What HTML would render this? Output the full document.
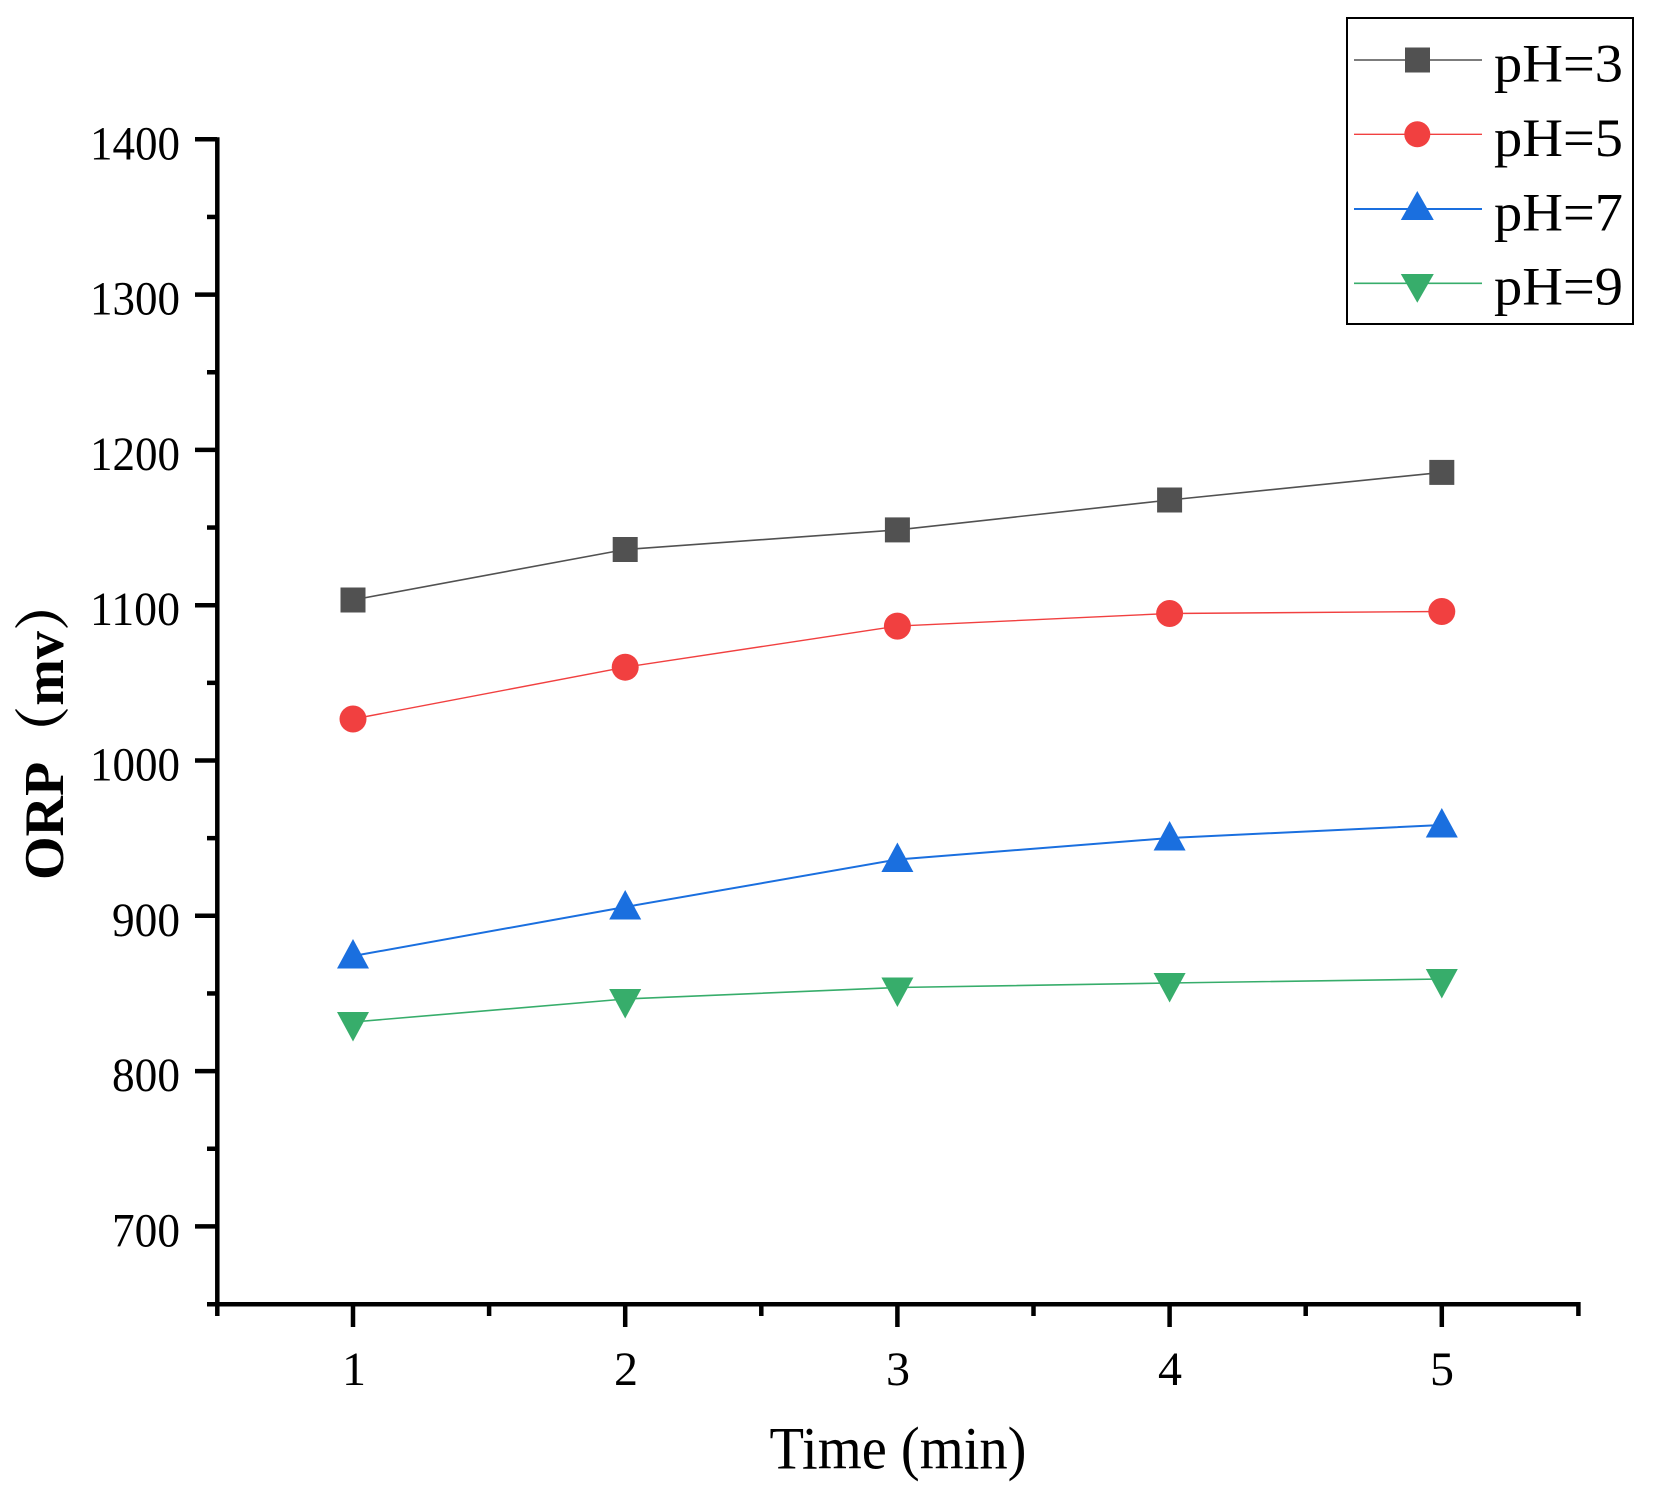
<!DOCTYPE html>
<html>
<head>
<meta charset="utf-8">
<style>
  html, body { margin: 0; padding: 0; background: #ffffff; }
  svg { display: block; }
  .tick { font-family: "Liberation Serif", "Noto Serif CJK SC", serif; font-size: 48px; fill: #000; }
  .leg { font-family: "Liberation Serif", "Noto Serif CJK SC", serif; font-size: 54px; fill: #000; }
</style>
</head>
<body>
<svg width="1656" height="1495" viewBox="0 0 1656 1495" xmlns="http://www.w3.org/2000/svg">
  <rect x="0" y="0" width="1656" height="1495" fill="#ffffff"/>

  <!-- Axes -->
  <g stroke="#000" stroke-width="4.5" fill="none">
    <!-- y axis -->
    <line x1="217.3" y1="137.3" x2="217.3" y2="1316"/>
    <!-- x axis -->
    <line x1="207" y1="1304.3" x2="1580.5" y2="1304.3"/>
    <!-- y major ticks -->
    <line x1="195" y1="139.3" x2="217" y2="139.3"/>
    <line x1="195" y1="294.6" x2="217" y2="294.6"/>
    <line x1="195" y1="449.9" x2="217" y2="449.9"/>
    <line x1="195" y1="605.2" x2="217" y2="605.2"/>
    <line x1="195" y1="760.5" x2="217" y2="760.5"/>
    <line x1="195" y1="915.8" x2="217" y2="915.8"/>
    <line x1="195" y1="1071.1" x2="217" y2="1071.1"/>
    <line x1="195" y1="1226.4" x2="217" y2="1226.4"/>
    <!-- y minor ticks -->
    <line x1="207" y1="216.95" x2="217" y2="216.95"/>
    <line x1="207" y1="372.25" x2="217" y2="372.25"/>
    <line x1="207" y1="527.55" x2="217" y2="527.55"/>
    <line x1="207" y1="682.85" x2="217" y2="682.85"/>
    <line x1="207" y1="838.15" x2="217" y2="838.15"/>
    <line x1="207" y1="993.45" x2="217" y2="993.45"/>
    <line x1="207" y1="1148.75" x2="217" y2="1148.75"/>
    <!-- x major ticks -->
    <line x1="353" y1="1304" x2="353" y2="1327"/>
    <line x1="625.2" y1="1304" x2="625.2" y2="1327"/>
    <line x1="897.4" y1="1304" x2="897.4" y2="1327"/>
    <line x1="1169.6" y1="1304" x2="1169.6" y2="1327"/>
    <line x1="1441.8" y1="1304" x2="1441.8" y2="1327"/>
    <!-- x minor ticks -->
    <line x1="489.1" y1="1304" x2="489.1" y2="1316"/>
    <line x1="761.3" y1="1304" x2="761.3" y2="1316"/>
    <line x1="1033.5" y1="1304" x2="1033.5" y2="1316"/>
    <line x1="1305.7" y1="1304" x2="1305.7" y2="1316"/>
    <line x1="1578.4" y1="1302" x2="1578.4" y2="1316"/>
  </g>

  <!-- Y tick labels -->
  <g class="tick" text-anchor="end">
    <text x="180" y="159.3" textLength="90" lengthAdjust="spacingAndGlyphs">1400</text>
    <text x="180" y="314.6" textLength="90" lengthAdjust="spacingAndGlyphs">1300</text>
    <text x="180" y="469.9" textLength="90" lengthAdjust="spacingAndGlyphs">1200</text>
    <text x="180" y="625.2" textLength="90" lengthAdjust="spacingAndGlyphs">1100</text>
    <text x="180" y="780.5" textLength="90" lengthAdjust="spacingAndGlyphs">1000</text>
    <text x="180" y="935.8" textLength="68" lengthAdjust="spacingAndGlyphs">900</text>
    <text x="180" y="1091.1" textLength="68" lengthAdjust="spacingAndGlyphs">800</text>
    <text x="180" y="1246.4" textLength="68" lengthAdjust="spacingAndGlyphs">700</text>
  </g>

  <!-- X tick labels -->
  <g class="tick" text-anchor="middle">
    <text x="354" y="1385">1</text>
    <text x="626" y="1385">2</text>
    <text x="898" y="1385">3</text>
    <text x="1170" y="1385">4</text>
    <text x="1442" y="1385">5</text>
  </g>

  <!-- Axis titles -->
  <text x="898" y="1468.3" text-anchor="middle" textLength="257" lengthAdjust="spacingAndGlyphs"
        style="font-family:'Liberation Serif','Noto Serif CJK SC',serif;font-size:60px;fill:#000;">Time (min)</text>
  <g transform="rotate(-90)">
    <text x="-880" y="63" style="font-family:'Liberation Serif','Noto Serif CJK SC',serif;font-size:56px;font-weight:bold;fill:#000;">ORP（mv）</text>
  </g>

  <!-- Series lines -->
  <polyline fill="none" stroke="#515151" stroke-width="1.6"
    points="353,600 625.2,549.5 897.4,529.9 1169.6,500 1441.8,472.4"/>
  <polyline fill="none" stroke="#F14040" stroke-width="1.4"
    points="353,719 625.2,667.2 897.4,626.1 1169.6,613.5 1441.8,611.5"/>
  <polyline fill="none" stroke="#1A6FDF" stroke-width="2"
    points="353,956 625.2,907 897.4,859.5 1169.6,838 1441.8,825"/>
  <polyline fill="none" stroke="#37AD6B" stroke-width="1.6"
    points="353,1022 625.2,999 897.4,987.5 1169.6,983 1441.8,979"/>

  <!-- pH=3 squares -->
  <g fill="#515151">
    <rect x="340.5" y="587.5" width="25" height="25"/>
    <rect x="612.7" y="537" width="25" height="25"/>
    <rect x="884.9" y="517.4" width="25" height="25"/>
    <rect x="1157.1" y="487.5" width="25" height="25"/>
    <rect x="1429.3" y="459.9" width="25" height="25"/>
  </g>
  <!-- pH=5 circles -->
  <g fill="#F14040">
    <circle cx="353" cy="719" r="13.5"/>
    <circle cx="625.2" cy="667.2" r="13.5"/>
    <circle cx="897.4" cy="626.1" r="13.5"/>
    <circle cx="1169.6" cy="613.5" r="13.5"/>
    <circle cx="1441.8" cy="611.5" r="13.5"/>
  </g>
  <!-- pH=7 up triangles -->
  <g fill="#1A6FDF">
    <polygon points="353,939 337,968.5 369,968.5"/>
    <polygon points="625.2,890 609.2,919.5 641.2,919.5"/>
    <polygon points="897.4,842.5 881.4,872 913.4,872"/>
    <polygon points="1169.6,821 1153.6,850.5 1185.6,850.5"/>
    <polygon points="1441.8,808 1425.8,837.5 1457.8,837.5"/>
  </g>
  <!-- pH=9 down triangles -->
  <g fill="#37AD6B">
    <polygon points="337,1012 369,1012 353,1041.5"/>
    <polygon points="609.2,989 641.2,989 625.2,1018.5"/>
    <polygon points="881.4,977.5 913.4,977.5 897.4,1007"/>
    <polygon points="1153.6,973 1185.6,973 1169.6,1002.5"/>
    <polygon points="1425.8,969 1457.8,969 1441.8,998.5"/>
  </g>

  <!-- Legend -->
  <rect x="1347" y="18" width="286" height="306" fill="#ffffff" stroke="#000" stroke-width="2"/>
  <line x1="1354" y1="60" x2="1482" y2="60" stroke="#515151" stroke-width="1.6"/>
  <rect x="1405" y="47.5" width="25" height="25" fill="#515151"/>
  <line x1="1354" y1="134.3" x2="1482" y2="134.3" stroke="#F14040" stroke-width="1.4"/>
  <circle cx="1417.3" cy="134.3" r="13" fill="#F14040"/>
  <line x1="1354" y1="209" x2="1482" y2="209" stroke="#1A6FDF" stroke-width="2"/>
  <polygon points="1417.3,191 1400.8,220 1433.8,220" fill="#1A6FDF"/>
  <line x1="1354" y1="283.3" x2="1482" y2="283.3" stroke="#37AD6B" stroke-width="1.6"/>
  <polygon points="1400.8,274 1433.8,274 1417.3,302.7" fill="#37AD6B"/>

  <g class="leg">
    <text x="1494" y="81.7" textLength="129" lengthAdjust="spacingAndGlyphs">pH=3</text>
    <text x="1494" y="156" textLength="129" lengthAdjust="spacingAndGlyphs">pH=5</text>
    <text x="1494" y="230.3" textLength="129" lengthAdjust="spacingAndGlyphs">pH=7</text>
    <text x="1494" y="304.6" textLength="129" lengthAdjust="spacingAndGlyphs">pH=9</text>
  </g>
</svg>
</body>
</html>
